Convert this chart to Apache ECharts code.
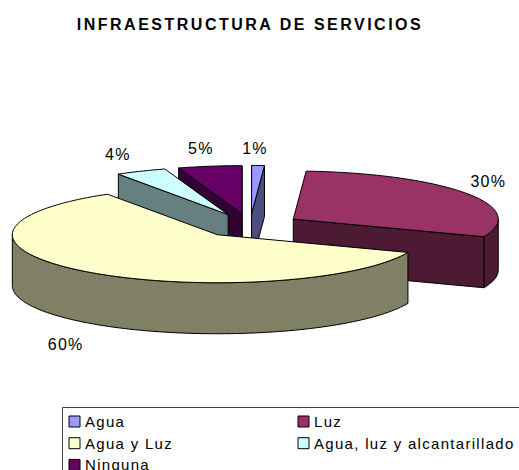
<!DOCTYPE html>
<html>
<head>
<meta charset="utf-8">
<script src="https://cdn.jsdelivr.net/npm/echarts@6/dist/echarts.min.js"></script>
<style>
  html, body { margin: 0; padding: 0; background: #fff; }
  #chart { width: 519px; height: 470px; overflow: hidden; }
  /* the reference text is spaced out wider than the font's own metrics */
  #chart text { letter-spacing: 1.3px; }
  #chart text[style*="bold"] { letter-spacing: 2.5px; }
</style>
</head>
<body>
<div id="chart"></div>
<script>
// data
const categories = ['Agua', 'Luz', 'Agua y Luz', 'Agua, luz y alcantarillado', 'Ninguna']
const values = [1, 30, 60, 4, 5]
const legendLeft = ['Agua', 'Agua y Luz', 'Ninguna']
const legendRight = ['Luz', 'Agua, luz y alcantarillado']
const topColors = ['#9999ff', '#993366', '#ffffcc', '#ccffff', '#660066']
const sideColors = ['#4d4d80', '#4d1a33', '#808066', '#668080', '#330033']
// painting order of each category, back to front
const paintOrder = [2, 4, 5, 3, 1]
// label shift from the rim point at the middle of each slice
const labelShift = [[-3, -17], [22, -12], [-21, 73], [-23, -17], [-9, -18]]

// 3d pie layout
const cx = 250, cy = 225.5, rx = 205, ry = 48, depth = 51, explode = 0.25
const total = values.reduce((a, b) => a + b, 0)

const rimPoint = (ox, oy, t, dy) => [ox + rx * Math.sin(t), oy - ry * Math.cos(t) + dy]

const arcSteps = (a, b) => {
  const arc = []
  const steps = Math.max(2, Math.ceil((b - a) / 0.03))
  for (let k = 0; k <= steps; k++) arc.push(a + (b - a) * k / steps)
  return arc
}

const renderSlice = (params, api) => {
  const i = params.seriesIndex
  const before = values.slice(0, i).reduce((a, b) => a + b, 0)
  const t0 = before / total * Math.PI * 2
  const t1 = (before + api.value(0)) / total * Math.PI * 2
  const mid = (t0 + t1) / 2
  const ox = cx + explode * rx * Math.sin(mid)
  const oy = cy - explode * ry * Math.cos(mid)

  const line = { stroke: '#000', lineWidth: 1, lineJoin: 'round' }
  const poly = (points, fill) => ({
    type: 'polygon',
    shape: { points },
    style: Object.assign({ fill }, line)
  })
  const wall = t => {
    const p = rimPoint(ox, oy, t, 0)
    const q = rimPoint(ox, oy, t, depth)
    return poly([[ox, oy], p, q, [ox, oy + depth]], sideColors[i])
  }

  const children = []
  // only the front half of the rim can be seen
  const r0 = Math.max(t0, Math.PI / 2)
  const r1 = Math.min(t1, Math.PI * 1.5)
  if (r1 > r0) {
    const rim = arcSteps(r0, r1)
    const upper = rim.map(t => rimPoint(ox, oy, t, 0))
    const lower = rim.map(t => rimPoint(ox, oy, t, depth)).reverse()
    children.push(poly(upper.concat(lower), sideColors[i]))
  }
  if (Math.sin(t0) <= 1e-9) children.push(wall(t0))
  if (Math.sin(t1) >= -1e-9) children.push(wall(t1))
  const topArc = arcSteps(t0, t1).map(t => rimPoint(ox, oy, t, 0))
  children.push(poly([[ox, oy]].concat(topArc), topColors[i]))

  const lp = rimPoint(ox, oy, mid, 0)
  children.push({
    type: 'text',
    style: {
      text: api.value(0) + '%',
      x: lp[0] + labelShift[i][0],
      y: lp[1] + labelShift[i][1],
      fill: '#000',
      font: '16px "Liberation Sans"',
      align: 'center',
      verticalAlign: 'middle'
    }
  })
  return { type: 'group', children }
}

const chart = echarts.init(document.getElementById('chart'), null, { renderer: 'svg' })
const legendBase = {
  orient: 'vertical',
  top: 414,
  height: 100,
  padding: 0,
  itemWidth: 11,
  itemHeight: 11,
  itemGap: 6.7,
  icon: 'rect',
  selectedMode: false,
  itemStyle: { borderColor: '#000', borderWidth: 1 },
  textStyle: { fontFamily: 'Liberation Sans', fontSize: 15, color: '#000', padding: [6, 0, 0, 0] }
}
chart.setOption({
  animation: false,
  backgroundColor: '#fff',
  color: topColors,
  title: {
    text: 'INFRAESTRUCTURA DE SERVICIOS',
    left: 250,
    top: 16,
    textAlign: 'center',
    padding: 0,
    textStyle: { fontFamily: 'Liberation Sans', fontSize: 16, fontWeight: 'bold', color: '#000' }
  },
  legend: [
    Object.assign({}, legendBase, { left: 68.5, data: legendLeft }),
    Object.assign({}, legendBase, { left: 297.5, data: legendRight })
  ],
  graphic: [{
    type: 'rect',
    shape: { x: 62.5, y: 407.5, width: 520, height: 100 },
    style: { fill: 'none', stroke: '#404040', lineWidth: 1 },
    silent: true
  }],
  series: categories.map((name, i) => ({
    type: 'custom',
    name,
    coordinateSystem: 'none',
    z: paintOrder[i],
    itemStyle: { color: topColors[i] },
    renderItem: renderSlice,
    data: [[values[i]]]
  }))
})
</script>
</body>
</html>
